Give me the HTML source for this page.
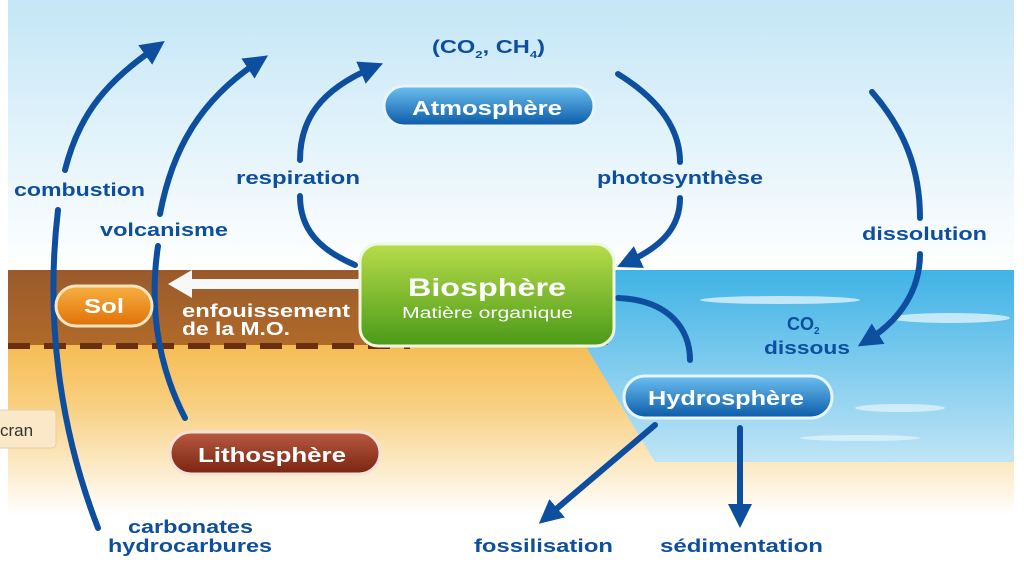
<!DOCTYPE html>
<html><head><meta charset="utf-8"><style>
body{margin:0;width:1024px;height:576px;overflow:hidden;background:#fff}
text{font-family:"Liberation Sans",sans-serif;font-weight:bold}
</style></head><body>
<svg width="1024" height="576" viewBox="0 0 1024 576">
<defs>
<linearGradient id="sky" x1="0" y1="0" x2="0" y2="1"><stop offset="0" stop-color="#c4e6f6"/><stop offset="1" stop-color="#ffffff"/></linearGradient>
<linearGradient id="orng" x1="0" y1="0" x2="0" y2="1"><stop offset="0" stop-color="#f3a51c"/><stop offset="0.55" stop-color="#f8cf80"/><stop offset="1" stop-color="#ffffff"/></linearGradient>
<linearGradient id="sea" x1="0" y1="0" x2="0" y2="1"><stop offset="0" stop-color="#3fb3e6"/><stop offset="1" stop-color="#bfe4f6"/></linearGradient>
<linearGradient id="brn" x1="0" y1="0" x2="0" y2="1"><stop offset="0" stop-color="#9a5a2c"/><stop offset="1" stop-color="#b06a2a"/></linearGradient>
<linearGradient id="bl" x1="0" y1="0" x2="0" y2="1"><stop offset="0" stop-color="#6cc0f0"/><stop offset="1" stop-color="#0a5aa8"/></linearGradient>
<linearGradient id="gr" x1="0" y1="0" x2="0" y2="1"><stop offset="0" stop-color="#b8dc4a"/><stop offset="1" stop-color="#4a9a18"/></linearGradient>
<linearGradient id="or" x1="0" y1="0" x2="0" y2="1"><stop offset="0" stop-color="#f8b040"/><stop offset="1" stop-color="#e07008"/></linearGradient>
<linearGradient id="rd" x1="0" y1="0" x2="0" y2="1"><stop offset="0" stop-color="#b85a40"/><stop offset="1" stop-color="#7a2410"/></linearGradient>
<marker id="ah" viewBox="0 0 10 10" refX="5" refY="5" markerWidth="4" markerHeight="4" orient="auto"><path d="M0,0 L10,5 L0,10 z" fill="#0d4f9e"/></marker>
</defs>
<rect x="8" y="0" width="1006" height="270" fill="url(#sky)"/>
<rect x="8" y="270" width="1006" height="245" fill="url(#orng)"/>
<rect x="8" y="270" width="600" height="75" fill="url(#brn)"/>
<polygon points="608,270 1014,270 1014,462 655,462 585,345 608,345" fill="url(#sea)"/>
<g fill="#dff2fb" opacity="0.8">
<ellipse cx="780" cy="300" rx="80" ry="4"/><ellipse cx="950" cy="318" rx="60" ry="5"/><ellipse cx="900" cy="408" rx="45" ry="4"/><ellipse cx="860" cy="438" rx="60" ry="3"/>
</g>
<line x1="8" y1="346" x2="410" y2="346" stroke="#6a2e10" stroke-width="6" stroke-dasharray="22,14"/>
<g fill="none" stroke="#0d4f9e" stroke-width="6" stroke-linecap="round">
<path d="M98,528 C60,430 45,320 58,210"/>
<path d="M65,170 C80,110 110,80 155,48" marker-end="url(#ah)"/>
<path d="M185,418 C155,360 150,300 158,246"/>
<path d="M160,214 C172,150 200,100 258,62" marker-end="url(#ah)"/>
<path d="M355,265 C320,250 300,230 300,196"/>
<path d="M300,160 C300,120 320,90 372,68" marker-end="url(#ah)"/>
<path d="M618,74 C660,100 680,130 680,162"/>
<path d="M680,198 C680,225 665,245 628,262" marker-end="url(#ah)"/>
<path d="M872,92 C905,130 920,170 920,218"/>
<path d="M920,254 C920,290 900,320 868,340" marker-end="url(#ah)"/>
<path d="M618,298 C670,300 690,330 690,360"/>
<path d="M655,425 L548,516" marker-end="url(#ah)"/>
<path d="M740,428 L740,516" marker-end="url(#ah)"/>
</g>
<g fill="#f8f8f8" stroke="none"><rect x="190" y="279" width="170" height="10"/><polygon points="168,284 192,270 192,298"/></g>
<g fill="#0d4f9e" font-size="18">
<text x="432" y="53" textLength="113" lengthAdjust="spacingAndGlyphs">(CO<tspan font-size="10" dy="5">2</tspan><tspan dy="-5">, CH</tspan><tspan font-size="10" dy="5">4</tspan><tspan dy="-5">)</tspan></text>
<text x="14" y="196" textLength="131" lengthAdjust="spacingAndGlyphs">combustion</text>
<text x="100" y="236" textLength="128" lengthAdjust="spacingAndGlyphs">volcanisme</text>
<text x="236" y="184" textLength="124" lengthAdjust="spacingAndGlyphs">respiration</text>
<text x="597" y="184" textLength="166" lengthAdjust="spacingAndGlyphs">photosynthèse</text>
<text x="862" y="240" textLength="125" lengthAdjust="spacingAndGlyphs">dissolution</text>
<text x="787" y="330">CO<tspan font-size="10" dy="4">2</tspan></text>
<text x="764" y="354" textLength="86" lengthAdjust="spacingAndGlyphs">dissous</text>
<text x="128" y="533" textLength="125" lengthAdjust="spacingAndGlyphs">carbonates</text>
<text x="108" y="552" textLength="164" lengthAdjust="spacingAndGlyphs">hydrocarbures</text>
<text x="474" y="552" textLength="139" lengthAdjust="spacingAndGlyphs">fossilisation</text>
<text x="660" y="552" textLength="163" lengthAdjust="spacingAndGlyphs">sédimentation</text>
</g>
<g fill="#ffffff" font-size="18"><text x="182" y="317" textLength="168" lengthAdjust="spacingAndGlyphs">enfouissement</text><text x="182" y="335" textLength="108" lengthAdjust="spacingAndGlyphs">de la M.O.</text></g>
<rect x="384" y="86" width="210" height="40" rx="20" fill="url(#bl)" stroke="#e8f4fb" stroke-width="3"/>
<text x="412" y="115" fill="#fff" font-size="20" textLength="150" lengthAdjust="spacingAndGlyphs">Atmosphère</text>
<rect x="360" y="244" width="254" height="102" rx="18" fill="url(#gr)" stroke="#eef8e0" stroke-width="3"/>
<text x="408" y="296" fill="#fff" font-size="25" textLength="158" lengthAdjust="spacingAndGlyphs">Biosphère</text>
<text x="402" y="318" fill="#fff" font-size="16" style="font-weight:normal" textLength="171" lengthAdjust="spacingAndGlyphs">Matière organique</text>
<rect x="56" y="286" width="96" height="40" rx="20" fill="url(#or)" stroke="#fbe4c0" stroke-width="3"/>
<text x="84" y="313" fill="#fff" font-size="20" textLength="40" lengthAdjust="spacingAndGlyphs">Sol</text>
<rect x="624" y="376" width="208" height="42" rx="21" fill="url(#bl)" stroke="#e8f4fb" stroke-width="3"/>
<text x="648" y="405" fill="#fff" font-size="20" textLength="156" lengthAdjust="spacingAndGlyphs">Hydrosphère</text>
<rect x="170" y="432" width="210" height="42" rx="21" fill="url(#rd)" stroke="#f3e0d8" stroke-width="3"/>
<text x="198" y="462" fill="#fff" font-size="20" textLength="148" lengthAdjust="spacingAndGlyphs">Lithosphère</text>
<rect x="-10" y="410" width="66" height="38" rx="4" fill="#fbe8c8" stroke="#e8d0a8"/>
<text x="0" y="436" fill="#333" font-size="17" style="font-weight:normal">cran</text>
</svg>
</body></html>
